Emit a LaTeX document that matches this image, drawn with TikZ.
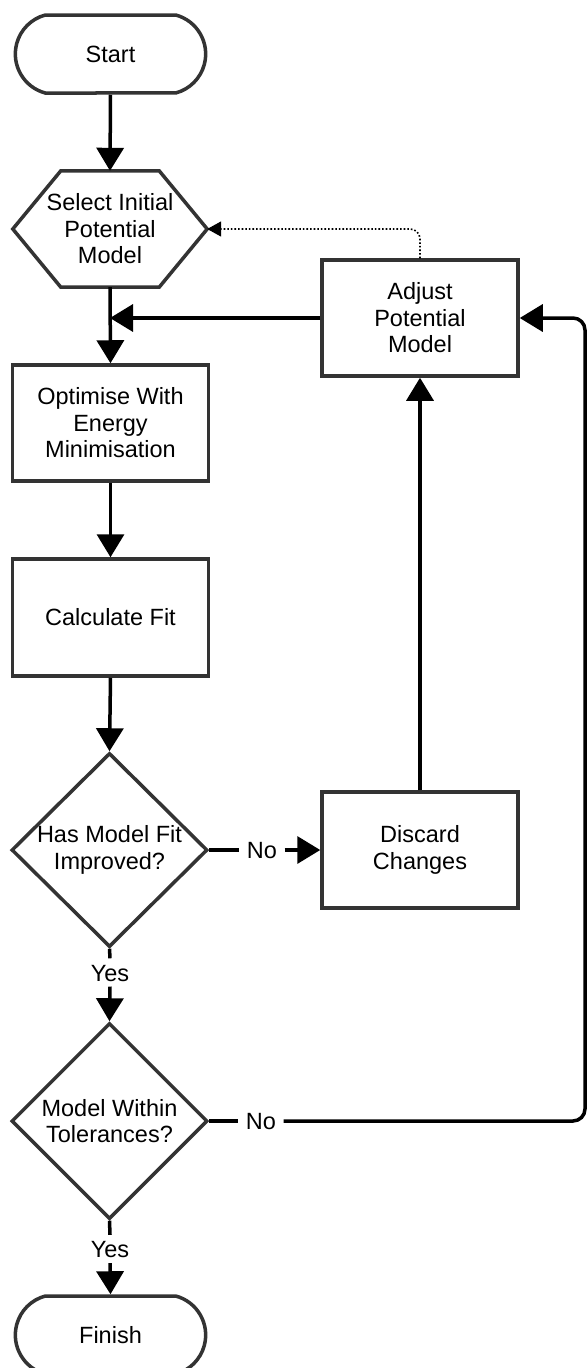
\documentclass[tikz,border=0pt]{standalone}
\usepackage{fontspec}
\setmainfont{Liberation Sans}
\usetikzlibrary{shapes.geometric,shapes.misc,arrows.meta}
\definecolor{edge}{HTML}{333333}
\begin{document}
\begin{tikzpicture}[x=1pt,y=-1pt,
  font=\fontsize{23.5}{26.5}\selectfont,
  box/.style={rectangle,draw=edge,line width=3.5pt,fill=white,align=center,
              minimum width=196pt,minimum height=116pt,inner sep=2pt},
  terminal/.style={rounded rectangle,rounded rectangle arc length=150,draw=edge,
              line width=3.5pt,fill=white,minimum width=197pt,minimum height=78pt},
  decision/.style={diamond,aspect=1,draw=edge,line width=3.5pt,fill=white,align=center,
              inner sep=-9pt,minimum width=196pt,minimum height=194pt},
  hexholder/.style={rectangle,draw=none,align=center,minimum width=194pt,minimum height=116pt},
  lbl/.style={inner xsep=7.5pt,inner ysep=5.5pt,text height=17pt,text depth=0pt},
  flow/.style={line width=3.5pt,-{Triangle[length=23pt,width=27pt]}},
  plain/.style={line width=3.5pt},
  hint/.style={line width=1.6pt,dotted,rounded corners=10pt,-{Triangle[length=14pt,width=15pt]}}]

\clip (0,0) rectangle (587,1368);
\fill[white] (0,0) rectangle (587,1368);

% shapes
\node[terminal] (start) at (110.5,54) {Start};
\node[hexholder] (sel) at (110,229) {};
\draw[draw=edge,line width=3.5pt,fill=white,line join=miter]
  (sel.west) -- ([xshift=48pt]sel.north west) -- ([xshift=-48pt]sel.north east)
  -- (sel.east) -- ([xshift=-48pt]sel.south east) -- ([xshift=48pt]sel.south west) -- cycle;
\node[align=center] (seltext) at (sel.center) {Select Initial\\Potential\\Model};
\node[box] (opt) at (110.5,423) {Optimise With\\Energy\\Minimisation};
\node[box,minimum height=117pt] (calc) at (110.5,617.5) {Calculate Fit};
\node[decision] (d1) at (109.5,850) {Has Model Fit\\Improved?};
\node[box] (disc) at (420,850) {Discard\\Changes};
\node[box] (adj) at (420,318) {Adjust\\Potential\\Model};
\node[decision,minimum height=196pt] (d2) at (109.5,1121) {Model Within\\Tolerances?};
\node[terminal] (fin) at (110.5,1335) {Finish};

% branch labels
\node[lbl] (no1) at (262,850) {No};
\node[lbl] (yes1) at (110,972.5) {Yes};
\node[lbl] (no2) at (261,1121) {No};
\node[lbl] (yes2) at (110,1249) {Yes};

% helper points
\coordinate (join) at (sel.south |- adj.west);
\coordinate (rtop) at (585,318);
\coordinate (rbot) at (585,1121);
\coordinate (bend) at (adj.north |- sel.east);

% connectors
\draw[flow] (start.south) -- (sel.south |- sel.north);
\draw[flow] (sel.south) -- (opt.north);
\draw[flow] (adj.west) -- (join);
\draw[flow] (opt.south) -- (calc.north);
\draw[flow] (calc.south) -- (d1.north);
\draw[plain] (d1.east) -- (no1.west);
\draw[flow] (no1.east) -- (disc.west);
\draw[flow] (disc.north) -- (adj.south);
\draw[plain] (d1.south) -- (yes1.north);
\draw[flow] (yes1.south) -- (d2.north);
\draw[plain] (d2.east) -- (no2.west);
\draw[flow,rounded corners=12pt] (no2.east) -- (rbot) -- (rtop) -- (adj.east);
\draw[plain] (d2.south) -- (yes2.north);
\draw[flow] (yes2.south) -- (fin.north);
\draw[hint] (adj.north) -- (bend) -- (sel.east);
\end{tikzpicture}
\end{document}
